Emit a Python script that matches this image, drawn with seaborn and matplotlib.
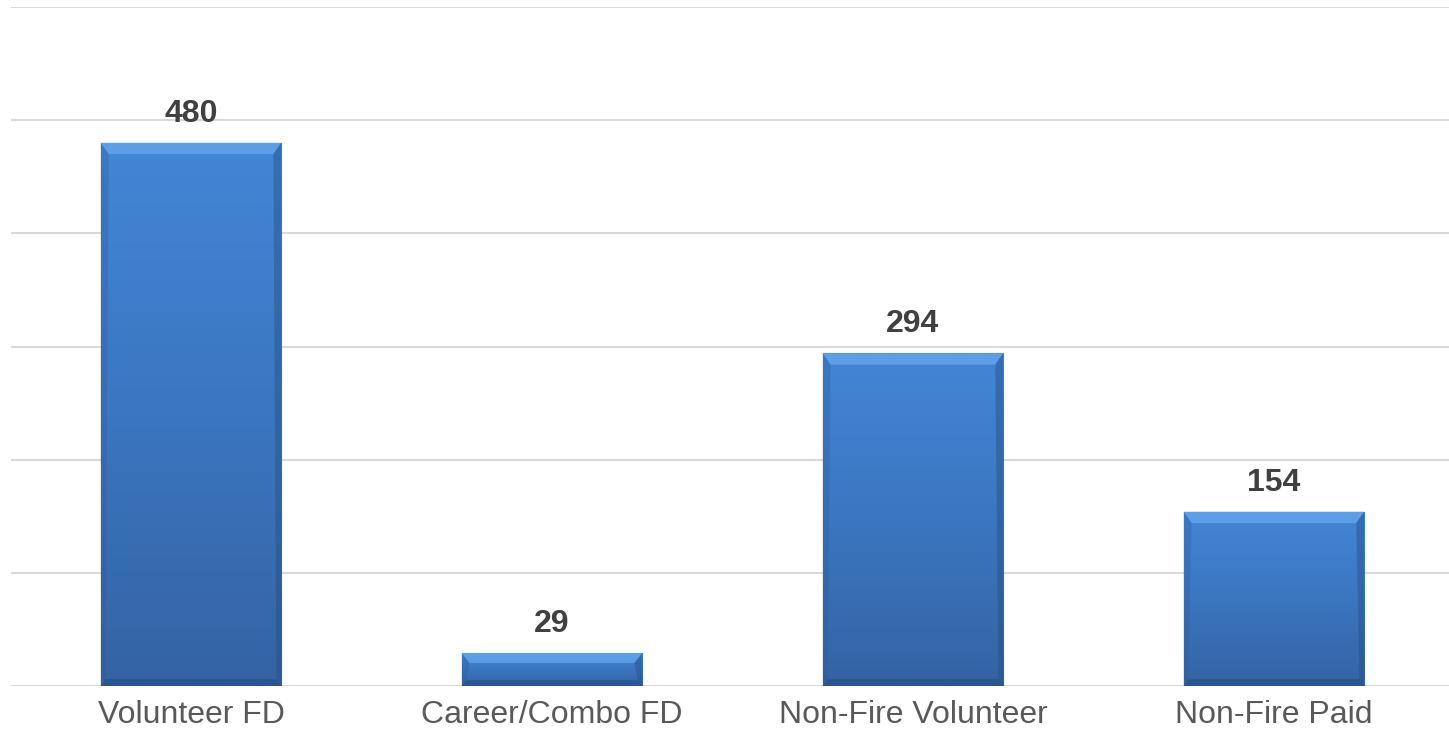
import numpy as np
import pandas as pd
import matplotlib
matplotlib.use("Agg")
import matplotlib.pyplot as plt
from matplotlib.colors import LinearSegmentedColormap
from matplotlib.patches import Polygon
import seaborn as sns

# data
categories = ["Volunteer FD", "Career/Combo FD", "Non-Fire Volunteer", "Non-Fire Paid"]
counts = [480, 29, 294, 154]

df = pd.DataFrame({"category": categories, "count": counts})

sns.set_theme(style="white")
plt.rcParams["font.family"] = ["Liberation Sans", "DejaVu Sans"]

fig = plt.figure(figsize=(14.49, 7.38), dpi=100)
ax = fig.add_axes([11 / 1449, 52 / 738, 1438 / 1449, 679 / 738])

sns.barplot(data=df, x="category", y="count", color="#3f7fcc", width=0.5,
            ax=ax, zorder=3, saturation=1)

ax.set_ylim(0, 600)
ax.set_xlim(-0.4986, 3.485)
ax.set_yticks(range(0, 601, 100))
ax.yaxis.grid(True, color="#d9d9d9", linewidth=1.5, zorder=0)
ax.set_axisbelow(True)
for s in ax.spines.values():
    s.set_visible(False)
ax.tick_params(axis="y", left=False, labelleft=False)
ax.tick_params(axis="x", bottom=False, pad=4, labelsize=23, labelcolor="#595959")
ax.set_xlabel("")
ax.set_ylabel("")

# vertical gradient + bevel on each bar
grad = LinearSegmentedColormap.from_list("bar", ["#3463a3", "#3b76c0", "#4386d6"])
ramp = np.linspace(0, 1, 256).reshape(-1, 1)
for bar in ax.patches:
    x0, y0 = bar.get_x(), bar.get_y()
    w, h = bar.get_width(), bar.get_height()
    im = ax.imshow(ramp, cmap=grad, origin="lower", aspect="auto",
                   extent=[x0, x0 + w, y0, y0 + h], zorder=3.5)
    im.set_clip_path(bar)
    bar.set_edgecolor("#2f5a94")
    bar.set_linewidth(0.8)
    bx = 0.022
    by = min(10, h * 0.3)
    bevels = [
        ([[x0, y0 + h], [x0 + w, y0 + h], [x0 + w - bx, y0 + h - by], [x0 + bx, y0 + h - by]], "#6aaaf0", 0.7),
        ([[x0 + w, y0 + h], [x0 + w, y0], [x0 + w - bx * 0.6, y0 + by * 0.6], [x0 + w - bx, y0 + h - by]], "#254a7c", 0.4),
        ([[x0, y0 + h], [x0, y0], [x0 + bx * 0.6, y0 + by * 0.6], [x0 + bx, y0 + h - by]], "#2c5a96", 0.3),
        ([[x0, y0], [x0 + w, y0], [x0 + w - bx * 0.6, y0 + by * 0.6], [x0 + bx * 0.6, y0 + by * 0.6]], "#1f4070", 0.4),
    ]
    for pts, col, a in bevels:
        ax.add_patch(Polygon(pts, closed=True, facecolor=col, edgecolor="none",
                             alpha=a, zorder=4))

for i, v in enumerate(counts):
    ax.annotate(str(v), xy=(i, v), xytext=(0, 10), textcoords="offset points",
                ha="center", va="bottom", fontsize=23, fontweight="bold",
                color="#404040", zorder=5)

fig.savefig("out.png", dpi=100)
